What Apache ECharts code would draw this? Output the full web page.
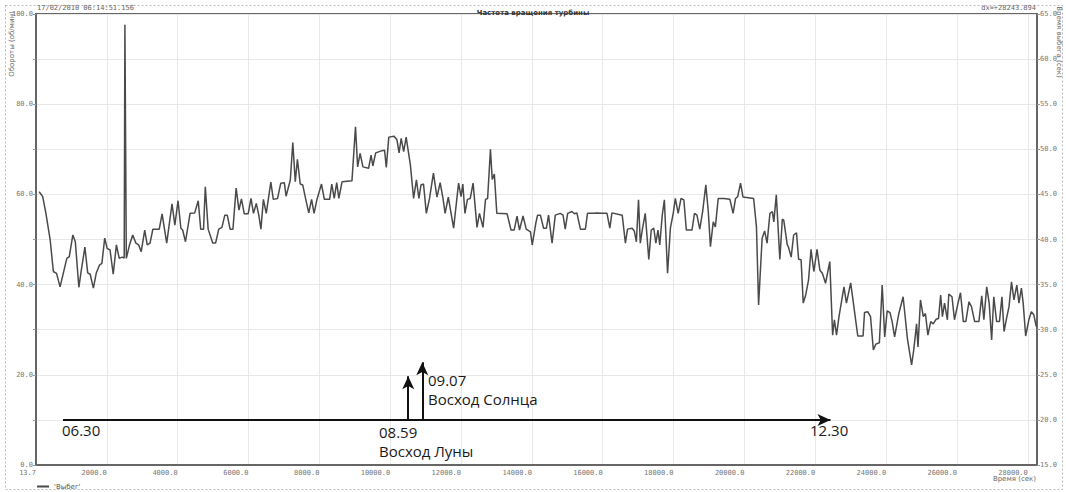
<!DOCTYPE html>
<html>
<head>
<meta charset="utf-8">
<script src="https://cdn.jsdelivr.net/npm/echarts@6/dist/echarts.min.js"></script>
<style>
html,body{margin:0;padding:0;background:#fff;}
#chart{width:1066px;height:492px;}
</style>
</head>
<body>
<div id="chart"></div>
<script>
// ---- data (time in seconds, rotor speed) ----
const times = [90,190,280,400,490,580,680,770,870,940,1040,1110,1210,1280,1380,1460,1530,1620,1700,1790,1860,1940,2010,2090,2180,2270,2350,2430,2490,2510,2550,2640,2730,2820,2900,2970,3070,3140,3220,3300,3480,3560,3690,3840,3920,4010,4090,4140,4220,4350,4480,4580,4650,4730,4780,4860,4990,5070,5160,5250,5330,5400,5480,5560,5650,5730,5800,5880,5990,6070,6140,6220,6290,6350,6420,6500,6630,6700,6820,6910,7010,7060,7180,7250,7320,7380,7460,7530,7610,7700,7780,7850,7930,8060,8140,8290,8350,8420,8490,8550,8640,8920,9020,9080,9150,9230,9390,9460,9510,9590,9770,9840,9890,9960,10110,10190,10250,10310,10380,10450,10570,10660,10740,10810,10870,10940,11020,11110,11220,11320,11410,11490,11550,11640,11790,11930,12000,12050,12110,12180,12260,12340,12450,12520,12620,12690,12750,12830,12880,12940,13010,13300,13410,13500,13580,13650,13750,13840,13960,14010,14110,14160,14240,14330,14410,14470,14570,14660,14800,14880,14940,15010,15130,15200,15270,15370,15510,15570,15740,15840,15980,16120,16200,16260,16550,16640,16700,16830,16890,16950,17010,17060,17120,17200,17300,17370,17440,17500,17560,17610,17680,17740,17830,17910,17990,18050,18130,18210,18290,18360,18520,18590,18660,18740,18820,18910,18980,19040,19120,19180,19260,19420,19590,19680,19750,19810,19890,19960,20260,20340,20400,20500,20570,20640,20720,20790,20830,20900,21000,21070,21110,21210,21240,21320,21390,21470,21530,21600,21660,21730,21810,21880,21960,22050,22130,22200,22290,22410,22490,22540,22600,22670,22810,22880,23000,23090,23200,23350,23390,23480,23560,23640,23710,23810,23890,23960,24030,24110,24170,24240,24360,24480,24600,24720,24780,24860,24900,24970,25050,25110,25180,25260,25330,25410,25480,25540,25590,25650,25730,25770,25860,25930,26030,26100,26180,26250,26340,26410,26500,26620,26700,26760,26840,26910,26980,27040,27120,27200,27270,27330,27400,27470,27540,27610,27690,27750,27820,27870,27940,28030,28100,28170,28240];
const rpm = [60.6,59.5,55.8,49.9,42.9,42.5,39.5,42.5,45.8,46.2,51.0,49.5,39.4,43.2,48.3,42.6,42.3,39.2,42.5,44.3,44.7,50.3,48.0,47.7,42.3,48.8,45.8,46.1,45.9,97.6,45.8,48.8,51.0,49.2,48.8,47.3,52.1,48.8,49.2,52.3,52.3,55.7,49.2,57.9,53.2,58.6,52.5,52.1,49.5,55.8,55.9,58.6,52.3,52.3,61.7,52.3,49.2,49.2,52.3,52.7,55.4,55.4,52.3,52.3,61.4,56.5,59.0,55.7,55.7,59.1,55.8,58.0,55.4,52.3,58.9,55.8,62.7,58.9,59.1,62.5,62.6,59.6,63.2,71.5,62.8,67.8,62.3,62.1,59.1,55.9,58.9,55.8,58.8,62.3,58.9,58.9,62.3,59.1,62.6,59.1,62.8,63.0,75.0,66.1,69.1,66.1,65.8,68.7,66.3,69.2,69.7,69.8,66.0,72.7,72.9,72.1,69.2,72.4,69.5,72.7,66.5,59.1,63.2,59.1,62.1,62.3,55.8,59.1,64.7,59.4,62.6,59.1,55.8,59.4,52.5,62.5,59.5,62.3,55.8,58.9,59.1,62.5,52.7,55.8,52.7,58.9,59.1,70.0,63.3,64.5,55.8,55.7,52.1,52.1,55.2,52.1,55.2,52.3,51.7,48.8,53.6,55.4,55.4,52.5,52.5,55.4,49.2,55.4,55.8,55.4,52.3,55.8,56.2,55.7,55.9,52.3,52.3,55.8,55.8,55.9,55.8,55.8,52.5,55.9,55.4,49.2,52.3,52.5,51.9,49.5,58.8,49.2,52.3,55.8,45.6,52.1,52.5,49.2,52.1,48.8,55.4,58.8,42.5,52.5,55.8,59.1,55.8,59.1,58.8,52.1,52.1,55.8,55.4,52.3,56.2,62.1,56.2,48.4,53.9,52.8,59.1,59.1,58.9,55.8,59.1,59.5,62.5,59.4,59.1,52.8,35.5,50.3,51.9,49.2,55.8,56.2,53.9,59.9,45.6,54.5,54.3,48.8,48.4,46.1,51.0,51.5,45.6,45.5,35.9,37.7,41.0,47.8,42.9,47.8,43.2,42.5,40.3,45.1,28.8,32.2,28.8,32.9,39.5,35.9,40.4,35.1,28.6,28.6,33.8,34.0,32.9,25.5,26.8,27.1,39.9,28.4,34.2,33.8,31.8,28.4,33.6,37.3,28.1,22.2,25.5,31.3,26.2,36.6,32.9,33.6,28.8,31.8,31.3,32.3,32.5,37.7,32.9,35.9,32.2,37.9,37.3,32.2,35.9,38.2,31.8,31.8,36.2,35.1,31.8,31.8,37.5,32.2,39.5,35.9,27.7,37.3,31.8,31.8,37.3,29.6,32.5,35.1,40.6,36.6,39.9,35.9,39.2,35.9,28.6,32.2,34.0,33.3,30.7];

const seriesName = "'Выбег'";
const titleText = 'Частота вращения турбины';
const startStamp = '17/02/2010 06:14:51.156';
const dxText = 'dx=+28243.894';
const leftAxisName = 'Обороты (об/мин)';
const rightAxisName = 'Время выбега (сек)';
const xAxisName = 'Время (сек)';
const xMinLabel = '13.7';

// annotation arrows (time, value)
const timeline = {from: [763, 10], to: [22430, 10]};
const moonArrow = {from: [10509, 10], to: [10509, 19.7]};
const sunArrow = {from: [10905, 10], to: [10905, 22.8]};
const annotTexts = ['06.30', '08.59', 'Восход Луны', '09.07', 'Восход Солнца', '12.30'];

const data = times.map((t, i) => [t, rpm[i]]);

const chart = echarts.init(document.getElementById('chart'), null, {renderer: 'svg'});
const small = {fontSize: 7, fontFamily: 'DejaVu Sans Mono', color: '#777'};
const annFont = {fontSize: 15, lineHeight: 15, fontFamily: 'Open Sans', fill: '#1a1a1a'};

chart.setOption({
  animation: false,
  backgroundColor: '#fff',
  title: {
    text: titleText, left: 'center', top: 4,
    textStyle: {fontSize: 7, fontWeight: 'bold', color: '#333', fontFamily: 'DejaVu Sans'}
  },
  legend: {
    left: 32, top: 478, itemWidth: 12, itemHeight: 2, icon: 'rect',
    textStyle: {fontSize: 7, color: '#555', fontFamily: 'DejaVu Sans'},
    data: [seriesName]
  },
  grid: {left: 36, right: 29, top: 14, bottom: 27, show: true, borderColor: '#666', borderWidth: 2},
  xAxis: {
    type: 'value', min: 0, max: 28260, interval: 2000,
    axisLine: {show: true, lineStyle: {color: '#666', width: 2}},
    axisTick: {show: false},
    splitLine: {show: true, lineStyle: {color: '#e8e8e8', width: 1}},
    axisLabel: Object.assign({}, small, {
      showMaxLabel: false, align: 'right', margin: 4,
      formatter: v => v === 0 ? xMinLabel : v.toFixed(1)
    })
  },
  yAxis: [
    {
      type: 'value', min: 0, max: 100, interval: 10, position: 'left',
      axisLine: {show: true, lineStyle: {color: '#666', width: 2}},
      axisTick: {show: true, length: 3, lineStyle: {color: '#999'}, interval: (i) => i % 2 === 0},
      splitLine: {show: true, lineStyle: {color: '#e8e8e8', width: 1}},
      axisLabel: Object.assign({}, small, {
        margin: 3, showMaxLabel: true,
        formatter: v => (v % 20 === 0 ? v.toFixed(1) : '')
      })
    },
    {
      type: 'value', min: 15, max: 65, interval: 5, position: 'right',
      axisLine: {show: true, lineStyle: {color: '#666', width: 2}},
      axisTick: {show: true, length: 3, lineStyle: {color: '#999'}},
      splitLine: {show: false},
      axisLabel: Object.assign({}, small, {margin: 3, formatter: v => v.toFixed(1)})
    }
  ],
  series: [{
    name: seriesName,
    type: 'line',
    yAxisIndex: 0,
    data: data,
    symbol: 'none',
    lineStyle: {color: '#4a4a4a', width: 1.5},
    itemStyle: {color: '#4a4a4a'},
    markLine: {
      silent: true,
      symbol: ['none', 'arrow'],
      symbolSize: [9, 13],
      label: {show: false},
      lineStyle: {color: '#111', width: 2, type: 'solid'},
      data: [
        [{coord: timeline.from}, {coord: timeline.to}],
        [{coord: moonArrow.from}, {coord: moonArrow.to}],
        [{coord: sunArrow.from}, {coord: sunArrow.to}]
      ]
    }
  }],
  graphic: [
    {type: 'rect', silent: true, z: -1, shape: {x: 5.5, y: 5.5, width: 1057, height: 484},
      style: {fill: 'none', stroke: '#bbb', lineWidth: 1, lineDash: [2, 2]}},
    {type: 'text', z: 100, x: 37, y: 8, style: {text: startStamp, font: '7px "DejaVu Sans Mono"', fill: '#666', textVerticalAlign: 'middle'}},
    {type: 'text', z: 100, x: 1036, y: 8, style: {text: dxText, font: '7px "DejaVu Sans Mono"', fill: '#666', textAlign: 'right', textVerticalAlign: 'middle'}},
    {type: 'text', z: 100, x: 1036, y: 479, style: {text: xAxisName, font: '7px "DejaVu Sans"', fill: '#666', textAlign: 'right', textVerticalAlign: 'middle'}},
    {type: 'text', z: 100, x: 12, y: 44, rotation: Math.PI / 2, style: {text: leftAxisName, font: '7px "DejaVu Sans"', fill: '#666', textAlign: 'center', textVerticalAlign: 'middle'}},
    {type: 'text', z: 100, x: 1059, y: 42, rotation: -Math.PI / 2, style: {text: rightAxisName, font: '7px "DejaVu Sans"', fill: '#666', textAlign: 'center', textVerticalAlign: 'middle'}},
    {type: 'text', z: 100, x: 62, y: 430, style: Object.assign({text: annotTexts[0], textVerticalAlign: 'middle'}, annFont)},
    {type: 'text', z: 100, x: 379, y: 432, style: Object.assign({text: annotTexts[1], textVerticalAlign: 'middle'}, annFont)},
    {type: 'text', z: 100, x: 379, y: 451, style: Object.assign({text: annotTexts[2], textVerticalAlign: 'middle'}, annFont)},
    {type: 'text', z: 100, x: 428, y: 380, style: Object.assign({text: annotTexts[3], textVerticalAlign: 'middle'}, annFont)},
    {type: 'text', z: 100, x: 428, y: 399, style: Object.assign({text: annotTexts[4], textVerticalAlign: 'middle'}, annFont)},
    {type: 'text', z: 100, x: 810, y: 430, style: Object.assign({text: annotTexts[5], textVerticalAlign: 'middle'}, annFont)}
  ]
});
</script>
</body>
</html>
